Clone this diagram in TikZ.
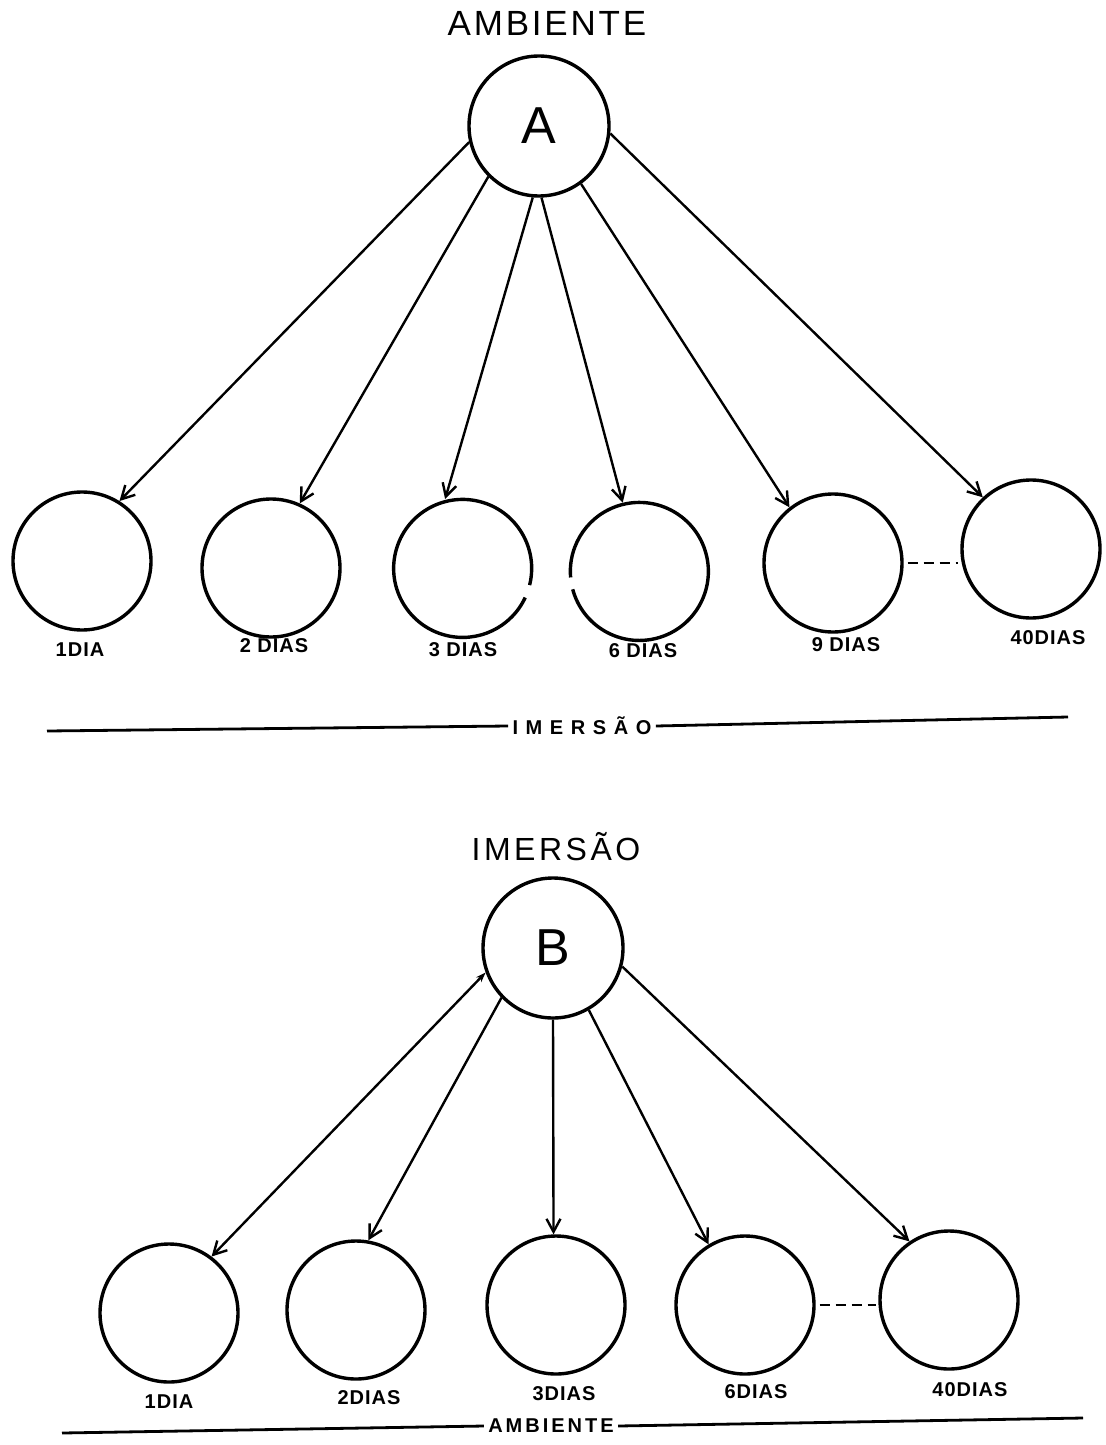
\documentclass[tikz,border=0pt]{standalone}
\usepackage{fontspec}
\setmainfont{Liberation Sans}
\newfontfamily\titlefont[LetterSpace=8]{Liberation Sans}
\newfontfamily\subtitlefont[LetterSpace=11]{Liberation Sans}
\newfontfamily\labelfont[LetterSpace=5]{Liberation Sans}
\newfontfamily\rulefont[LetterSpace=38]{Liberation Sans}
\newfontfamily\rulefontwide[LetterSpace=15]{Liberation Sans}
\usetikzlibrary{arrows.meta}

\tikzset{
  hub/.style={circle, draw, line width=1.7pt, minimum size=70pt, inner sep=0pt,
              font=\fontsize{26}{26}\selectfont},
  day/.style={circle, draw, line width=1.7pt, minimum size=69pt, inner sep=0pt},
  gapday/.style={day, draw=none},
  ring/.style={line width=1.7pt},
  link/.style={line width=1.2pt, -{Straight Barb[length=6.5pt,width=7pt]}},
  linkback/.style={line width=1.2pt, {Stealth[length=5pt,width=3.5pt]}-{Straight Barb[length=6.5pt,width=7pt]}},
  chain/.style={line width=1.2pt, dash pattern=on 5pt off 3pt},
  heading/.style={font=\titlefont\fontsize{17.5}{18}\selectfont},
  subheading/.style={font=\subtitlefont\fontsize{16}{17}\selectfont},
  daylabel/.style={font=\labelfont\bfseries\fontsize{10}{10}\selectfont},
  rulelabel/.style={font=\rulefont\bfseries\fontsize{10}{10}\selectfont, inner sep=2pt},
  rulelabelwide/.style={font=\rulefontwide\bfseries\fontsize{10}{10}\selectfont, inner sep=2pt},
  rule/.style={line width=1.4pt}
}

\begin{document}
\begin{tikzpicture}[x=0.5pt, y=-0.5pt]
\useasboundingbox (0,0) rectangle (1105,1445);

% ---------- upper scheme: ambient exposure ----------
\node[heading] (tA) at (547,23) {AMBIENTE};
\node[hub] (A) at (539,126) {A};

\node[day]    (a1)  at (82,561)   {};
\node[day]    (a2)  at (271,568)  {};
\node[gapday] (a3)  at (461,568)  {};
\node[gapday] (a6)  at (641,571)  {};
\node[day]    (a9)  at (833,563)  {};
\node[day]    (a40) at (1031,549) {};

% circles drawn with a small break in the outline
\draw[ring] (a3.-14) arc[start angle=-14, end angle=335, radius=34.5pt];
\draw[ring] (a6.195) arc[start angle=195, end angle=545, radius=34.5pt];

\node[daylabel] (la1)  at (80,650)   {1DIA};
\node[daylabel] (la2)  at (274,646)  {2 DIAS};
\node[daylabel] (la3)  at (463,650)  {3 DIAS};
\node[daylabel] (la6)  at (643,651)  {6 DIAS};
\node[daylabel] (la9)  at (846,645)  {9 DIAS};
\node[daylabel] (la40) at (1048,638) {40DIAS};

\draw[link] (A.193) -- (a1.58);
\draw[link] (A.225) -- (a2.66);
\draw[link] (A.265) -- (a3.103);
\draw[link] (A.272) -- (a6.105);
\draw[link] (A.306) -- (a9.128);
\draw[link] (A.354) -- (a40.133);
\draw[chain] ([xshift=2pt]a9.east) -- ([xshift=-1pt]a9.east -| a40.west);

\node[rulelabel] (rA) at (582,726) {IMERSÃO};
\coordinate (rAl) at (47,731);
\coordinate (rAr) at (1068,717);
\draw[rule] (rAl) -- (rA.west);
\draw[rule] (rA.east) -- (rAr);

% ---------- lower scheme: immersion ----------
\node[subheading] (tB) at (556,847) {IMERSÃO};
\node[hub] (B) at (553,948) {B};

\node[day] (b1)  at (169,1313) {};
\node[day] (b2)  at (356,1310) {};
\node[day] (b3)  at (556,1305) {};
\node[day] (b6)  at (745,1305) {};
\node[day] (b40) at (949,1300) {};

\node[daylabel] (lb1)  at (169,1402) {1DIA};
\node[daylabel] (lb2)  at (369,1398) {2DIAS};
\node[daylabel] (lb3)  at (564,1394) {3DIAS};
\node[daylabel] (lb6)  at (756,1392) {6DIAS};
\node[daylabel] (lb40) at (970,1390) {40DIAS};

\draw[linkback] (B.200) -- (b1.53);
\draw[link] (B.224) -- (b2.80);
\draw[link] (B.270) -- (b3.92);
\draw[link] (B.300) -- (b6.121);
\draw[link] (B.345) -- (b40.124);
\draw[chain] ([xshift=2pt]b6.east) -- ([xshift=-1pt]b6.east -| b40.west);

\node[rulelabelwide] (rB) at (551,1426) {AMBIENTE};
\coordinate (rBl) at (62,1433);
\coordinate (rBr) at (1083,1418);
\draw[rule] (rBl) -- (rB.west);
\draw[rule] (rB.east) -- (rBr);
\end{tikzpicture}
\end{document}
